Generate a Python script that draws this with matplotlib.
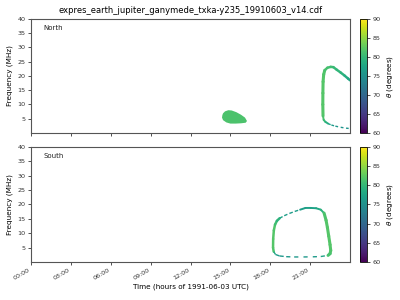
import numpy as np
import matplotlib
matplotlib.use("Agg")
import matplotlib.pyplot as plt
from matplotlib.collections import LineCollection
from matplotlib.colors import Normalize
from matplotlib import cm

title = "expres_earth_jupiter_ganymede_txka-y235_19910603_v14.cdf"
tick_hours = [0, 3, 6, 9, 12, 15, 18, 21]
tick_labels = ["00:00", "03:00", "06:00", "09:00", "12:00", "15:00", "18:00", "21:00"]
freq_ticks = [5, 10, 15, 20, 25, 30, 35, 40]
cbar_ticks = [60, 65, 70, 75, 80, 85, 90]

# North hemisphere emission (time in hours, frequency in MHz, theta in degrees)
blob_time = [14.45, 14.6, 14.85, 15.1, 15.45, 15.8, 16.1, 16.25, 16.15, 15.8, 15.4, 15.0, 14.7, 14.45, 14.37, 14.4]
blob_freq = [6.9, 7.6, 8.0, 7.9, 7.3, 6.4, 5.4, 4.2, 3.6, 3.4, 3.3, 3.3, 3.7, 4.5, 5.4, 6.3]
blob_theta = 81.5

n_vert_time = [21.97, 21.955, 21.96, 21.975, 22.02, 22.1]
n_vert_freq = [6.0, 10.0, 14.0, 18.0, 20.5, 22.0]
n_vert_theta = [82, 82, 82, 82, 82, 81.5]

n_top_time = [22.1, 22.3, 22.55, 22.75, 23.0, 23.3, 23.6, 23.85, 24.0]
n_top_freq = [22.0, 22.9, 23.2, 23.1, 22.2, 21.2, 20.1, 19.1, 18.5]
n_top_theta = [81.5, 81, 81, 80.5, 80, 79.5, 79, 78, 77.5]

n_low_time = [21.97, 22.02, 22.15, 22.35, 22.6, 22.9, 23.3, 23.7, 23.9]
n_low_freq = [6.0, 4.6, 3.9, 3.3, 2.8, 2.4, 2.0, 1.7, 1.6]
n_low_theta = [82, 81, 80, 78, 76.5, 76, 75.5, 75.5, 75.5]

# South hemisphere emission
s_left_time = [18.26, 18.21, 18.22, 18.27, 18.36, 18.5, 18.7]
s_left_freq = [3.6, 5.0, 8.0, 11.0, 13.0, 14.3, 15.2]
s_left_theta = [81.5, 82, 82, 82, 81.5, 80, 79]

s_top_time = [18.7, 19.05, 19.45, 19.85, 20.25, 20.65, 21.05, 21.45, 21.8, 22.05]
s_top_freq = [15.2, 16.1, 16.9, 17.6, 18.2, 18.8, 18.8, 18.7, 18.2, 17.0]
s_top_theta = [77.5, 77, 76.5, 76.5, 76.5, 77, 77, 77.5, 78.5, 80]

s_right_time = [22.05, 22.2, 22.3, 22.4, 22.5, 22.55, 22.5, 22.35]
s_right_freq = [17.0, 14.5, 12.0, 9.0, 6.0, 4.0, 2.9, 2.3]
s_right_theta = [81, 82, 82, 82, 82, 82, 81.5, 81]

s_bot_time = [18.26, 18.4, 18.7, 19.2, 19.8, 20.5, 21.2, 21.8, 22.35]
s_bot_freq = [3.6, 2.6, 2.1, 1.85, 1.75, 1.75, 1.8, 1.9, 2.3]
s_bot_theta = [79, 76.5, 76, 76, 76, 76, 76, 76.5, 78]

cmap = cm.viridis
norm = Normalize(vmin=60, vmax=90)

fig = plt.figure(figsize=(4, 3), dpi=100)
ax1 = fig.add_axes([0.0775, 0.5567, 0.7975, 0.38])
ax2 = fig.add_axes([0.0775, 0.1267, 0.7975, 0.3833])
cax1 = fig.add_axes([0.9, 0.5567, 0.0175, 0.38])
cax2 = fig.add_axes([0.9, 0.1267, 0.0175, 0.3833])


def draw_branch(ax, t, f, th, lw, ls="solid"):
    pts = np.column_stack([t, f]).reshape(-1, 1, 2)
    segs = np.concatenate([pts[:-1], pts[1:]], axis=1)
    th = np.asarray(th, dtype=float)
    vals = 0.5 * (th[:-1] + th[1:])
    cap = "round" if ls == "solid" else "butt"
    lc = LineCollection(segs, colors=cmap(norm(vals)), linewidths=lw,
                        linestyles=ls, capstyle=cap, joinstyle="round")
    lc.set_snap(False)
    ax.add_collection(lc)


# North
ax1.fill(blob_time, blob_freq, color=cmap(norm(blob_theta)), lw=0)
draw_branch(ax1, n_vert_time, n_vert_freq, n_vert_theta, 2.2)
draw_branch(ax1, n_top_time, n_top_freq, n_top_theta, 1.8)
draw_branch(ax1, n_low_time[:4], n_low_freq[:4], n_low_theta[:4], 1.4)
draw_branch(ax1, n_low_time[3:], n_low_freq[3:], n_low_theta[3:], 1.0, ls=(0, (2, 2.5)))

# South
draw_branch(ax2, s_left_time, s_left_freq, s_left_theta, 1.8)
draw_branch(ax2, s_top_time[:5], s_top_freq[:5], s_top_theta[:5], 1.0, ls=(0, (2.5, 1.5)))
draw_branch(ax2, s_top_time[4:], s_top_freq[4:], s_top_theta[4:], 1.4)
draw_branch(ax2, s_right_time, s_right_freq, s_right_theta, 2.2)
draw_branch(ax2, s_bot_time, s_bot_freq, s_bot_theta, 1.0, ls=(0, (3, 4)))

for ax, lab in ((ax1, "North"), (ax2, "South")):
    ax.set_xlim(0, 24)
    ax.set_ylim(0, 40)
    ax.set_yticks(freq_ticks)
    ax.set_xticks(tick_hours)
    ax.tick_params(labelsize=4.6, length=2.5, width=0.6, pad=1.5, colors="#333333")
    ax.set_ylabel("Frequency (MHz)", fontsize=5.2, labelpad=3)
    ax.text(0.04, 0.9, lab, transform=ax.transAxes, fontsize=5, color="#222222")
    for s in ax.spines.values():
        s.set_linewidth(0.8)
        s.set_color("#555555")

ax1.set_xticklabels([])
ax2.set_xticklabels(tick_labels, rotation=30, ha="right")
ax2.set_xlabel("Time (hours of 1991-06-03 UTC)", fontsize=5.2, labelpad=2)
ax1.set_title(title, fontsize=6.0, pad=4)

for cax in (cax1, cax2):
    sm = cm.ScalarMappable(norm=norm, cmap=cmap)
    cb = fig.colorbar(sm, cax=cax)
    cb.set_ticks(cbar_ticks)
    cb.ax.tick_params(labelsize=4.6, length=2.5, width=0.6, pad=1.5, colors="#333333")
    cb.set_label(r"$\theta$ (degrees)", fontsize=5.2, labelpad=3)
    cb.outline.set_linewidth(0.6)

fig.savefig("out.png", dpi=100)
